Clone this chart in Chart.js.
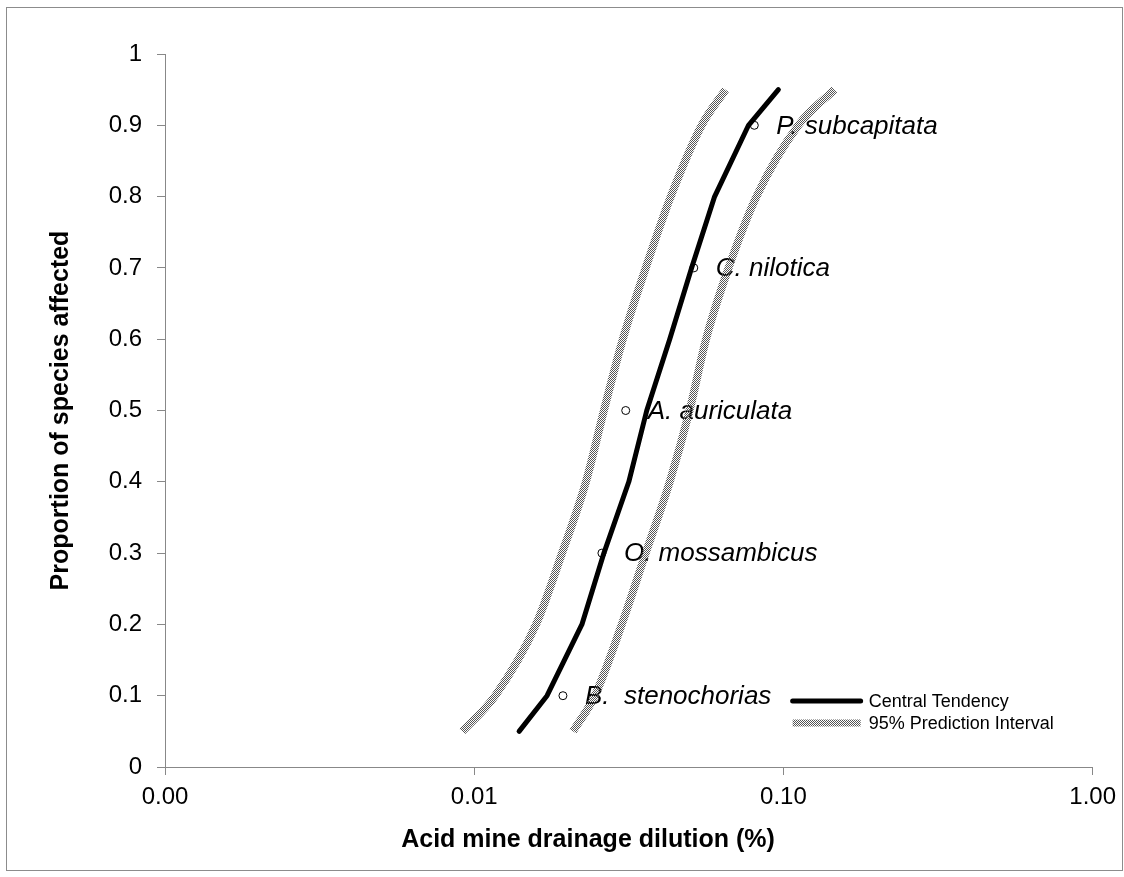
<!DOCTYPE html>
<html>
<head>
<meta charset="utf-8">
<script src="https://cdn.jsdelivr.net/npm/chart.js@4.4.0/dist/chart.umd.min.js"></script>
<style>
  html, body { margin: 0; padding: 0; background: #fff; }
  #wrap { position: relative; width: 1124px; height: 877px; }
  #frame { position: absolute; left: 6px; top: 7px; width: 1115px; height: 862px; border: 1px solid #8c8c8c; pointer-events: none; }
</style>
</head>
<body>
<div id="wrap">
  <canvas id="chart" width="1124" height="877"></canvas>
  <div id="frame"></div>
</div>
<script>
// proportion of species affected (y) for each curve point
const proportions = [0.05, 0.1, 0.2, 0.3, 0.4, 0.5, 0.6, 0.7, 0.8, 0.9, 0.95];
// dilution (%)
const centralTendency = [0.01397, 0.0172, 0.0223, 0.02627, 0.03162, 0.03614, 0.04288, 0.05046, 0.0599, 0.0771, 0.0963];
const lowerPI = [0.00915, 0.01169, 0.01585, 0.01923, 0.02298, 0.02627, 0.03024, 0.03587, 0.0432, 0.05438, 0.065];
const upperPI = [0.02087, 0.02455, 0.03001, 0.03587, 0.04288, 0.0497, 0.0562, 0.06646, 0.0818, 0.1117, 0.1461];

const speciesNames = ['B.  stenochorias', 'O. mossambicus', 'A. auriculata', 'C. nilotica', 'P. subcapitata'];
const speciesDilution = [0.01936, 0.02588, 0.0309, 0.0513, 0.0805];
const speciesProportion = [0.1, 0.3, 0.5, 0.7, 0.9];

const xTickValues = [0.001, 0.01, 0.1, 1];
const xTickLabels = ['0.00', '0.01', '0.10', '1.00'];
const yTickValues = [0, 0.1, 0.2, 0.3, 0.4, 0.5, 0.6, 0.7, 0.8, 0.9, 1];
const yTickLabels = ['0', '0.1', '0.2', '0.3', '0.4', '0.5', '0.6', '0.7', '0.8', '0.9', '1'];

const FONT = 'Arial, "Liberation Sans", sans-serif';
const canvas = document.getElementById('chart');
const ctx = canvas.getContext('2d');

// stippled grey stroke for the prediction interval
function dotPattern() {
    const c = document.createElement('canvas');
    c.width = 2;
    c.height = 2;
    const g = c.getContext('2d');
    g.fillStyle = '#555';
    g.fillRect(0, 0, 1, 1);
    g.fillRect(1, 1, 1, 1);
    return ctx.createPattern(c, 'repeat');
}
const stipple = dotPattern();

const toPoints = (xs, ys) => xs.map((x, i) => ({ x: x, y: ys[i] }));

const speciesLabels = {
    id: 'speciesLabels',
    beforeDatasetsDraw(chart) {
        const c = chart.ctx;
        c.save();
        c.font = 'italic 26px ' + FONT;
        c.fillStyle = '#000';
        c.textBaseline = 'middle';
        chart.getDatasetMeta(1).data.forEach((pt, i) => {
            c.fillText(speciesNames[i], pt.x + 22, pt.y + 1);
        });
        c.restore();
    }
};

const titlesAndLegend = {
    id: 'titlesAndLegend',
    afterDraw(chart) {
        const c = chart.ctx;
        const area = chart.chartArea;
        c.save();
        c.fillStyle = '#000';
        c.textAlign = 'center';
        c.textBaseline = 'middle';
        c.font = 'bold 25px ' + FONT;
        c.fillText('Acid mine drainage dilution (%)', 588, 840);
        c.translate(61, (area.top + area.bottom) / 2);
        c.rotate(-Math.PI / 2);
        c.fillText('Proportion of species affected', 0, 0);
        c.restore();

        // legend in the lower right corner of the plot
        const rows = [chart.data.datasets[0], chart.data.datasets[2]];
        c.save();
        c.font = '18px ' + FONT;
        c.textBaseline = 'middle';
        c.fillStyle = '#000';
        rows.forEach((ds, i) => {
            const y = area.bottom - 66 + i * 22;
            const x0 = area.right - 300;
            c.beginPath();
            c.moveTo(x0, y);
            c.lineTo(x0 + 68, y);
            c.strokeStyle = ds.borderColor;
            c.lineWidth = i === 0 ? 5 : 7;
            c.lineCap = i === 0 ? 'round' : 'butt';
            c.stroke();
            c.fillText(ds.label, x0 + 76, y + 1);
        });
        c.restore();
    }
};

const chart = new Chart(ctx, {
    type: 'scatter',
    data: {
        datasets: [
            {
                label: 'Central Tendency',
                data: toPoints(centralTendency, proportions),
                showLine: true,
                borderColor: '#000',
                borderWidth: 5,
                borderCapStyle: 'round',
                borderJoinStyle: 'round',
                pointRadius: 0,
                order: 0
            },
            {
                label: 'Species',
                data: toPoints(speciesDilution, speciesProportion),
                showLine: false,
                pointRadius: 4,
                pointBorderWidth: 1,
                pointBorderColor: '#000',
                pointBackgroundColor: 'rgba(0,0,0,0)',
                order: 1
            },
            {
                label: '95% Prediction Interval',
                data: toPoints(lowerPI, proportions),
                showLine: true,
                borderColor: stipple,
                borderWidth: 8,
                pointRadius: 0,
                cubicInterpolationMode: 'monotone',
                order: 2
            },
            {
                label: '95% Prediction Interval (upper)',
                data: toPoints(upperPI, proportions),
                showLine: true,
                borderColor: stipple,
                borderWidth: 8,
                pointRadius: 0,
                cubicInterpolationMode: 'monotone',
                order: 3
            }
        ]
    },
    options: {
        responsive: false,
        animation: false,
        devicePixelRatio: 1,
        layout: { padding: { top: 54, right: 30, left: 0, bottom: 0 } },
        plugins: {
            legend: { display: false },
            tooltip: { enabled: false }
        },
        scales: {
            x: {
                type: 'logarithmic',
                min: 0.001,
                max: 1,
                afterBuildTicks: axis => { axis.ticks = xTickValues.map(v => ({ value: v })); },
                afterFit: axis => { axis.height = 110; },
                ticks: {
                    callback: (v, i) => xTickLabels[i],
                    color: '#000',
                    font: { family: FONT, size: 24 },
                    padding: 8,
                    maxRotation: 0,
                    autoSkip: false
                },
                grid: { drawOnChartArea: false, drawTicks: true, tickLength: 8, color: '#888' },
                border: { color: '#888', width: 1 }
            },
            y: {
                min: 0,
                max: 1,
                afterBuildTicks: axis => { axis.ticks = yTickValues.map(v => ({ value: v })); },
                afterFit: axis => { axis.width = 165; },
                ticks: {
                    callback: (v, i) => yTickLabels[i],
                    color: '#000',
                    font: { family: FONT, size: 24 },
                    padding: 15
                },
                grid: { drawOnChartArea: false, drawTicks: true, tickLength: 8, color: '#888' },
                border: { color: '#888', width: 1 }
            }
        }
    },
    plugins: [speciesLabels, titlesAndLegend]
});
</script>
</body>
</html>
